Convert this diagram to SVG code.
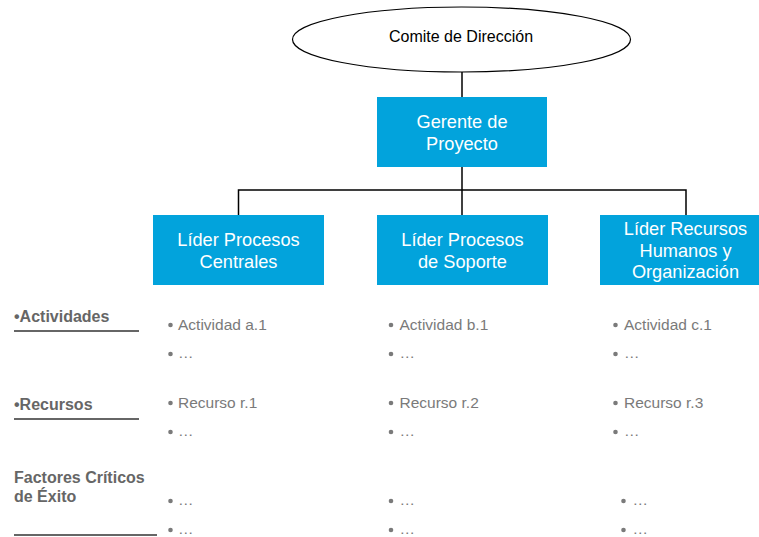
<svg xmlns="http://www.w3.org/2000/svg" width="759" height="537" viewBox="0 0 759 537">
  <style>
    .box { fill: #02A3DC; }
    .bt { font-family: "Liberation Sans", Arial, sans-serif; font-size: 18.2px; fill: #ffffff; text-anchor: middle; }
    .conn { stroke: #000; stroke-width: 1.5; fill: none; }
    .lbl { font-family: "Liberation Sans", Arial, sans-serif; font-size: 16px; font-weight: bold; fill: #666666; }
    .it { font-family: "Liberation Sans", Arial, sans-serif; font-size: 15.5px; fill: #7a7a7a; }
    .dot { fill: #7a7a7a; }
    .ul { stroke: #333; stroke-width: 1.5; }
  </style>
  <rect width="759" height="537" fill="#ffffff"/>

  <g id="connectors">
    <line class="conn" x1="462" y1="72" x2="462" y2="97"/>
    <line class="conn" x1="462" y1="167" x2="462" y2="190"/>
    <polyline class="conn" points="238.5,215 238.5,190 686,190 686,215"/>
    <line class="conn" x1="462" y1="190" x2="462" y2="215" stroke="#555" stroke-width="1"/>
  </g>

  <g id="comite">
    <ellipse cx="461.5" cy="39.5" rx="169" ry="32.5" fill="#fff" stroke="#000" stroke-width="1.2"/>
    <text x="461" y="42" font-family="Liberation Sans, Arial, sans-serif" font-size="16" fill="#000" text-anchor="middle">Comite de Dirección</text>
  </g>

  <g id="gerente">
    <rect class="box" x="377" y="97" width="170" height="70"/>
    <text class="bt" x="462" y="128">Gerente de</text>
    <text class="bt" x="462" y="149.5">Proyecto</text>
  </g>

  <g id="lider-centrales">
    <rect class="box" x="153" y="215" width="171" height="70"/>
    <text class="bt" x="238.5" y="246">Líder Procesos</text>
    <text class="bt" x="238.5" y="268">Centrales</text>
  </g>

  <g id="lider-soporte">
    <rect class="box" x="377" y="215" width="171" height="70"/>
    <text class="bt" x="462.5" y="246">Líder Procesos</text>
    <text class="bt" x="462.5" y="268">de Soporte</text>
  </g>

  <g id="lider-rrhh">
    <rect class="box" x="600" y="215" width="171" height="70"/>
    <text class="bt" x="685.5" y="235">Líder Recursos</text>
    <text class="bt" x="685.5" y="256.5">Humanos y</text>
    <text class="bt" x="685.5" y="278">Organización</text>
  </g>

  <g id="labels">
    <text class="lbl" x="14" y="322">•Actividades</text>
    <line class="ul" x1="14" y1="331" x2="139" y2="331"/>
    <text class="lbl" x="14" y="410">•Recursos</text>
    <line class="ul" x1="14" y1="419" x2="139" y2="419"/>
    <text class="lbl" x="14" y="483">Factores Críticos</text>
    <text class="lbl" x="14" y="502">de Éxito</text>
    <line class="ul" x1="14" y1="535" x2="157" y2="535"/>
  </g>

  <g id="col-a">
    <circle class="dot" cx="170.5" cy="325" r="2.3"/><text class="it" x="178" y="330">Actividad a.1</text>
    <circle class="dot" cx="170.5" cy="354" r="2.3"/><text class="it" x="178" y="358">…</text>
    <circle class="dot" cx="170.5" cy="403" r="2.3"/><text class="it" x="178" y="408">Recurso r.1</text>
    <circle class="dot" cx="170.5" cy="432" r="2.3"/><text class="it" x="178" y="436">…</text>
    <circle class="dot" cx="170.5" cy="501" r="2.3"/><text class="it" x="178" y="505">…</text>
    <circle class="dot" cx="170.5" cy="530" r="2.3"/><text class="it" x="178" y="534">…</text>
  </g>

  <g id="col-b">
    <circle class="dot" cx="391" cy="325" r="2.3"/><text class="it" x="399.5" y="330">Actividad b.1</text>
    <circle class="dot" cx="391" cy="354" r="2.3"/><text class="it" x="399.5" y="358">…</text>
    <circle class="dot" cx="391" cy="403" r="2.3"/><text class="it" x="399.5" y="408">Recurso r.2</text>
    <circle class="dot" cx="391" cy="432" r="2.3"/><text class="it" x="399.5" y="436">…</text>
    <circle class="dot" cx="391" cy="501" r="2.3"/><text class="it" x="399.5" y="505">…</text>
    <circle class="dot" cx="391" cy="530" r="2.3"/><text class="it" x="399.5" y="534">…</text>
  </g>

  <g id="col-c">
    <circle class="dot" cx="615.5" cy="325" r="2.3"/><text class="it" x="624" y="330">Actividad c.1</text>
    <circle class="dot" cx="615.5" cy="354" r="2.3"/><text class="it" x="624" y="358">…</text>
    <circle class="dot" cx="615.5" cy="403" r="2.3"/><text class="it" x="624" y="408">Recurso r.3</text>
    <circle class="dot" cx="615.5" cy="432" r="2.3"/><text class="it" x="624" y="436">…</text>
    <circle class="dot" cx="623.5" cy="501" r="2.3"/><text class="it" x="632.5" y="505">…</text>
    <circle class="dot" cx="623.5" cy="530" r="2.3"/><text class="it" x="632.5" y="534">…</text>
  </g>
</svg>
